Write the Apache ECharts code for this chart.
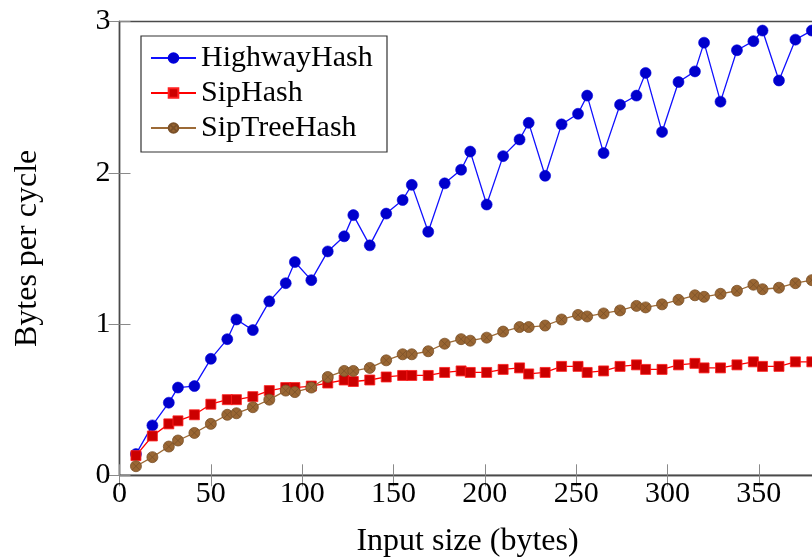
<!DOCTYPE html>
<html>
<head>
<meta charset="utf-8">
<script src="https://cdn.jsdelivr.net/npm/echarts@6/dist/echarts.min.js"></script>
<style>
html,body{margin:0;padding:0;background:#fff;}
#chart{width:812px;height:558px;}
</style>
</head>
<body>
<div id="chart"></div>
<script>
// Input sizes (bytes)
const inputSizes = [9,18,27,32,41,50,59,64,73,82,91,96,105,114,123,128,137,146,155,160,169,178,187,192,201,210,219,224,233,242,251,256,265,274,283,288,297,306,315,320,329,338,347,352,361,370,379];
// Bytes per cycle
const highwayHash = [0.14,0.33,0.48,0.58,0.59,0.77,0.90,1.03,0.96,1.15,1.27,1.41,1.29,1.48,1.58,1.72,1.52,1.73,1.82,1.92,1.61,1.93,2.02,2.14,1.79,2.11,2.22,2.33,1.98,2.32,2.39,2.51,2.13,2.45,2.51,2.66,2.27,2.60,2.67,2.86,2.47,2.81,2.87,2.94,2.61,2.88,2.94];
const sipHash = [0.13,0.26,0.34,0.36,0.40,0.47,0.50,0.50,0.52,0.56,0.58,0.58,0.59,0.61,0.63,0.62,0.63,0.65,0.66,0.66,0.66,0.68,0.69,0.68,0.68,0.70,0.71,0.67,0.68,0.72,0.72,0.68,0.69,0.72,0.73,0.70,0.70,0.73,0.74,0.71,0.71,0.73,0.75,0.72,0.72,0.75,0.75];
const sipTreeHash = [0.06,0.12,0.19,0.23,0.28,0.34,0.40,0.41,0.45,0.50,0.56,0.55,0.58,0.65,0.69,0.69,0.71,0.76,0.80,0.80,0.82,0.87,0.90,0.89,0.91,0.95,0.98,0.98,0.99,1.03,1.06,1.05,1.07,1.09,1.12,1.11,1.13,1.16,1.19,1.18,1.20,1.22,1.26,1.23,1.24,1.27,1.29];
const seriesNames = ['HighwayHash','SipHash','SipTreeHash'];
const xTicks = {min:0, max:381, interval:50};
const yTicks = {min:0, max:3, interval:1};

const FONT = "'Liberation Serif', 'Times New Roman', serif";
const pairs = (ys) => inputSizes.map((x,i)=>[x, ys[i]]);
const otimes = 'path://M10,0A10,10,0,1,1,-10,0A10,10,0,1,1,10,0Z M-7.07,-7.07L7.07,7.07 M-7.07,7.07L7.07,-7.07';

const frameColor = '#4a4a4a';
const tickStyle = {show:true, inside:true, length:11, lineStyle:{color:'#8a8a8a', width:1}};

const chart = echarts.init(document.getElementById('chart'), null, {renderer:'canvas'});
chart.setOption({
  animation:false,
  backgroundColor:'#ffffff',
  grid:{left:119.5, top:21.5, width:696, height:453.8, outerBoundsMode:'none', containLabel:false,
        show:true, borderColor:frameColor, borderWidth:1.3, backgroundColor:'transparent'},
  legend:{
    data:seriesNames, orient:'vertical', left:150, top:43, padding:0, itemGap:5,
    itemWidth:45, itemHeight:12,
    textStyle:{fontFamily:FONT, fontSize:30, color:'#000'}
  },
  graphic:[{type:'rect', shape:{x:141, y:36, width:246, height:116}, style:{fill:'none', stroke:'#333', lineWidth:1.2}, z:10}],
  xAxis:[
    {type:'value', min:xTicks.min, max:xTicks.max, interval:xTicks.interval, position:'bottom',
     name:'Input size (bytes)', nameLocation:'middle', nameGap:50,
     nameTextStyle:{fontFamily:FONT, fontSize:32, color:'#000'},
     axisLine:{show:true, lineStyle:{color:frameColor, width:1.3}},
     axisTick:tickStyle, splitLine:{show:false},
     axisLabel:{fontFamily:FONT, fontSize:30, color:'#000', margin:4, showMaxLabel:false}},
    {type:'value', min:xTicks.min, max:xTicks.max, interval:xTicks.interval, position:'top',
     axisLine:{show:true, lineStyle:{color:frameColor, width:1.3}},
     axisTick:tickStyle, splitLine:{show:false}, axisLabel:{show:false}}
  ],
  yAxis:[
    {type:'value', min:yTicks.min, max:yTicks.max, interval:yTicks.interval, position:'left',
     name:'Bytes per cycle', nameLocation:'middle', nameGap:76, nameRotate:90,
     nameTextStyle:{fontFamily:FONT, fontSize:32, color:'#000'},
     axisLine:{show:true, lineStyle:{color:frameColor, width:1.3}},
     axisTick:tickStyle, splitLine:{show:false},
     axisLabel:{fontFamily:FONT, fontSize:30, color:'#000', margin:9}},
    {type:'value', min:yTicks.min, max:yTicks.max, interval:yTicks.interval, position:'right',
     axisLine:{show:true, lineStyle:{color:frameColor, width:1.3}},
     axisTick:tickStyle, splitLine:{show:false}, axisLabel:{show:false}}
  ],
  series:[
    {name:seriesNames[0], type:'line', data:pairs(highwayHash), symbol:'circle', symbolSize:11,
     lineStyle:{color:'#1010ff', width:1.3}, itemStyle:{color:'#0000cc', borderColor:'#0000dd', borderWidth:0.6}, z:2},
    {name:seriesNames[1], type:'line', data:pairs(sipHash), symbol:'rect', symbolSize:10,
     lineStyle:{color:'#ff0000', width:1.3}, itemStyle:{color:'#cc0000', borderColor:'#ff2020', borderWidth:0.8}, z:3},
    {name:seriesNames[2], type:'line', data:pairs(sipTreeHash), symbol:otimes, symbolSize:11,
     lineStyle:{color:'#9c6a36', width:1.3}, itemStyle:{color:'#996633', borderColor:'#7a5028', borderWidth:0.8}, z:4}
  ]
});
</script>
</body>
</html>
